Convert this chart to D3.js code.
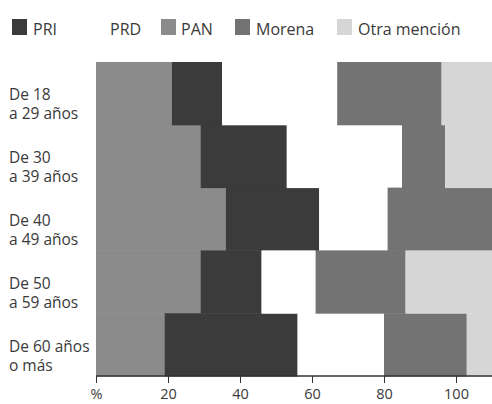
<!DOCTYPE html>
<html><head><meta charset="utf-8">
<script src="https://cdn.jsdelivr.net/npm/d3@7"></script>
<style>
html,body{margin:0;padding:0;background:#fff;}
svg{display:block;}
text{font-family:"Open Sans",sans-serif;fill:#3a3a3a;}
</style></head>
<body>
<script>
const categories = ["De 18|a 29 años","De 30|a 39 años","De 40|a 49 años","De 50|a 59 años","De 60 años|o más"];
const series = ["PAN","PRI","PRD","Morena","Otra mención"];
const PAN   = [21, 29, 36, 29, 19];
const PRI   = [14, 24, 26, 17, 37];
const PRD   = [32, 32, 19, 15, 24];
const Morena= [29, 12, 30, 25, 23];
const Otra  = [16, 15,  4, 25, 10];
const legendItems = ["PRI","PRD","PAN","Morena","Otra mención"];
const tickValues = [0,20,40,60,80,100];
const tickLabels = ["%","20","40","60","80","100"];
const colors = {"PRI":"#3b3b3b","PRD":"#ffffff","PAN":"#8b8b8b","Morena":"#737373","Otra mención":"#d6d6d6"};

const W=492,H=404;
const rows = categories.map((c,i)=>({cat:c,"PAN":PAN[i],"PRI":PRI[i],"PRD":PRD[i],"Morena":Morena[i],"Otra mención":Otra[i]}));
const svg = d3.select("body").append("svg").attr("width",W).attr("height",H);
const x = d3.scaleLinear().domain([0,100]).range([96,456]);
const y = d3.scaleBand().domain(categories).range([62,376]).padding(0);
const stack = d3.stack().keys(series)(rows);

svg.append("g").selectAll("g").data(stack).join("g")
  .attr("fill",d=>colors[d.key])
  .selectAll("rect").data(d=>d).join("rect")
  .attr("x",d=>x(d[0])).attr("y",d=>y(d.data.cat))
  .attr("width",d=>x(d[1])-x(d[0])).attr("height",y.bandwidth()+0.5);

// axis
const ax = svg.append("g").attr("transform","translate(0,376)")
  .call(d3.axisBottom(x).tickValues(tickValues).tickSize(7).tickSizeOuter(0).tickFormat((d,i)=>tickLabels[i]));
ax.select(".domain").remove();
ax.append("line").attr("x1",x(0)).attr("x2",W).attr("stroke","#333").attr("stroke-width",1.3);
ax.selectAll(".tick line").attr("stroke","#333");
ax.selectAll(".tick text").attr("y",23).attr("dy",0).style("font-size","14.5px").style("font-family","'Open Sans',sans-serif").attr("fill","#3a3a3a");

// y labels
const yl = svg.append("g");
categories.forEach(c=>{
  const parts=c.split("|");
  const cy=y(c)+y.bandwidth()/2;
  const t=yl.append("text").attr("x",9).style("font-size","15.5px");
  t.append("tspan").attr("x",9).attr("y",cy+7).text(parts[0]);
  t.append("tspan").attr("x",9).attr("y",cy+26).text(parts[1]);
});

// legend
const legX = {"PRI":[12,33],"PRD":[90,110],"PAN":[161,181],"Morena":[235,256],"Otra mención":[337,358]};
const lg = svg.append("g");
legendItems.forEach(k=>{
  lg.append("rect").attr("x",legX[k][0]).attr("y",19).attr("width",15).attr("height",16).attr("fill",colors[k]);
  lg.append("text").attr("x",legX[k][1]).attr("y",35).style("font-size","16px").text(k);
});
</script>
</body></html>
